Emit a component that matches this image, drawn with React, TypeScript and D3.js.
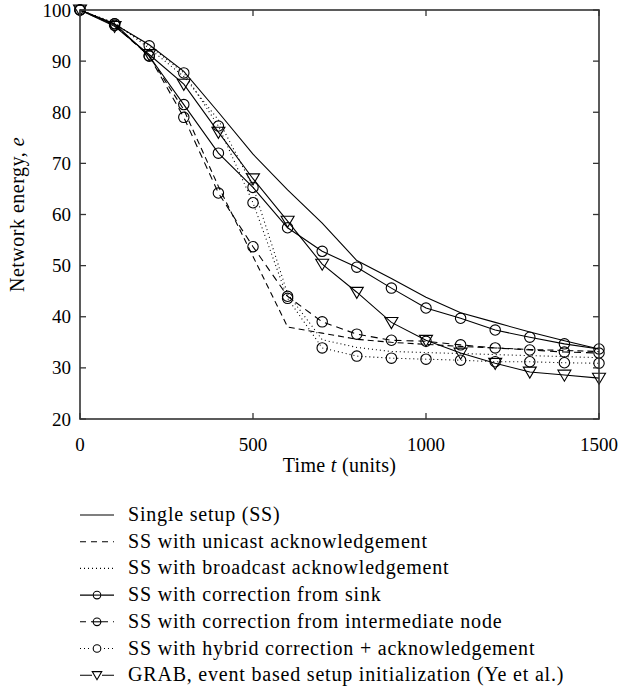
import React from "react";
import * as d3 from "d3";

const times = [0, 100, 200, 300, 400, 500, 600, 700, 800, 900, 1000, 1100, 1200, 1300, 1400, 1500];

const singleSetup = [100, 97.2, 93.2, 88, 80, 71.8, 64.8, 58.3, 51, 47.5, 43.8, 40.8, 38.9, 37, 35.3, 33.7];
const unicastAck = [100, 97, 91, 80.5, 65.5, 51.8, 38, 36.8, 35.6, 35, 34.6, 34.2, 33.9, 33.6, 33.4, 33.2];
const broadcastAck = [100, 97.5, 92.5, 87, 78.5, 65.5, 44.5, 35.5, 34, 33.2, 33, 32.8, 32.6, 32.4, 32.2, 32];
const sinkCorrection = [100, 97.3, 91, 81.5, 72, 65.3, 57.4, 52.8, 49.7, 45.6, 41.7, 39.7, 37.4, 36, 34.7, 33.7];
const intermediateCorrection = [100, 97, 91, 79, 64.2, 53.7, 44, 39, 36.6, 35.4, 35.2, 34.5, 33.9, 33.5, 33.1, 32.9];
const hybridCorrection = [100, 97.3, 93, 87.7, 77.3, 62.3, 43.6, 33.9, 32.3, 31.9, 31.7, 31.5, 31.2, 31.2, 31, 30.9];
const grab = [100, 96.8, 91.3, 85.5, 76.1, 67, 58.7, 50.3, 44.8, 38.9, 35.4, 32.9, 30.9, 29.2, 28.6, 28];

const xTicks = [0, 500, 1000, 1500];
const yTicks = [20, 30, 40, 50, 60, 70, 80, 90, 100];

const series = [
  { name: "Single setup (SS)", values: singleSetup, dash: "", marker: "none" },
  { name: "SS with unicast acknowledgement", values: unicastAck, dash: "6,4", marker: "none" },
  { name: "SS with broadcast acknowledgement", values: broadcastAck, dash: "1,3", marker: "none" },
  { name: "SS with correction from sink", values: sinkCorrection, dash: "", marker: "circle" },
  { name: "SS with correction from intermediate node", values: intermediateCorrection, dash: "7,5", marker: "circle" },
  { name: "SS with hybrid correction + acknowledgement", values: hybridCorrection, dash: "1,3", marker: "circle" },
  { name: "GRAB, event based setup initialization (Ye et al.)", values: grab, dash: "", marker: "triangle" },
];

const font = "'Liberation Serif', 'DejaVu Serif', serif";

const left = 80;
const right = 599;
const top = 10;
const bottom = 419;

const Marker = ({ type, cx, cy, r }: { type: string; cx: number; cy: number; r: number }) => {
  if (type === "circle") {
    return <circle cx={cx} cy={cy} r={r} fill="none" stroke="#000" strokeWidth={1.1} />;
  }
  if (type === "triangle") {
    const s = r * 1.25;
    const pts = [
      [cx - s, cy - s * 0.75],
      [cx + s, cy - s * 0.75],
      [cx, cy + s * 0.95],
    ];
    return <polygon points={pts.map((p) => p.join(",")).join(" ")} fill="none" stroke="#000" strokeWidth={1.1} />;
  }
  return null;
};

export default function App() {
  const x = d3.scaleLinear().domain([0, 1500]).range([left, right]);
  const y = d3.scaleLinear().domain([20, 100]).range([bottom, top]);

  const line = d3
    .line<number>()
    .x((_, i) => x(times[i]))
    .y((d) => y(d));

  const legendY0 = 515;
  const legendStep = 26.7;

  return (
    <svg width={620} height={691} style={{ position: "absolute", left: 0, top: 0, background: "#fff" }} fontFamily={font}>
      {/* series */}
      {series.map((s) => (
        <g key={s.name}>
          <path d={line(s.values) || ""} fill="none" stroke="#000" strokeWidth={1.1} strokeDasharray={s.dash || undefined} />
          {s.values.map((v, i) => (
            <Marker key={i} type={s.marker} cx={x(times[i])} cy={y(v)} r={5.2} />
          ))}
        </g>
      ))}

      {/* frame */}
      <rect x={left} y={top} width={right - left} height={bottom - top} fill="none" stroke="#333" strokeWidth={1.6} />

      {/* ticks */}
      {yTicks.map((t) => (
        <g key={"y" + t}>
          <line x1={left} x2={left + 6} y1={y(t)} y2={y(t)} stroke="#333" strokeWidth={1.3} />
          <line x1={right} x2={right - 6} y1={y(t)} y2={y(t)} stroke="#333" strokeWidth={1.3} />
          <text x={left - 9} y={y(t) + 6.5} textAnchor="end" fontSize={19}>
            {t}
          </text>
        </g>
      ))}
      {xTicks.map((t) => (
        <g key={"x" + t}>
          <line x1={x(t)} x2={x(t)} y1={bottom} y2={bottom - 6} stroke="#333" strokeWidth={1.3} />
          <line x1={x(t)} x2={x(t)} y1={top} y2={top + 6} stroke="#333" strokeWidth={1.3} />
          <text x={x(t)} y={bottom + 32} textAnchor="middle" fontSize={19}>
            {t}
          </text>
        </g>
      ))}

      {/* axis labels */}
      <text x={(left + right) / 2} y={472} textAnchor="middle" fontSize={20} letterSpacing={0.3}>
        Time <tspan fontStyle="italic">t</tspan> (units)
      </text>
      <text transform={`translate(24, ${(top + bottom) / 2}) rotate(-90)`} textAnchor="middle" fontSize={20} letterSpacing={0.5}>
        Network energy, <tspan fontStyle="italic">e</tspan>
      </text>

      {/* legend */}
      {series.map((s, i) => {
        const ly = legendY0 + i * legendStep;
        return (
          <g key={"leg" + s.name}>
            <line x1={80} x2={114} y1={ly} y2={ly} stroke="#000" strokeWidth={1.1} strokeDasharray={s.dash ? (s.dash === "1,3" ? "1,3" : "6,5") : undefined} />
            {s.marker !== "none" && (
              <>
                <rect x={92} y={ly - 5} width={10} height={10} fill="#fff" />
                {s.marker === "circle" && s.dash !== "1,3" && <line x1={92} x2={102} y1={ly} y2={ly} stroke="#000" strokeWidth={1.1} />}
                <Marker type={s.marker} cx={97} cy={ly} r={3.8} />
              </>
            )}
            <text x={128} y={ly + 6} fontSize={20} letterSpacing={0.8}>
              {s.name}
            </text>
          </g>
        );
      })}
    </svg>
  );
}
